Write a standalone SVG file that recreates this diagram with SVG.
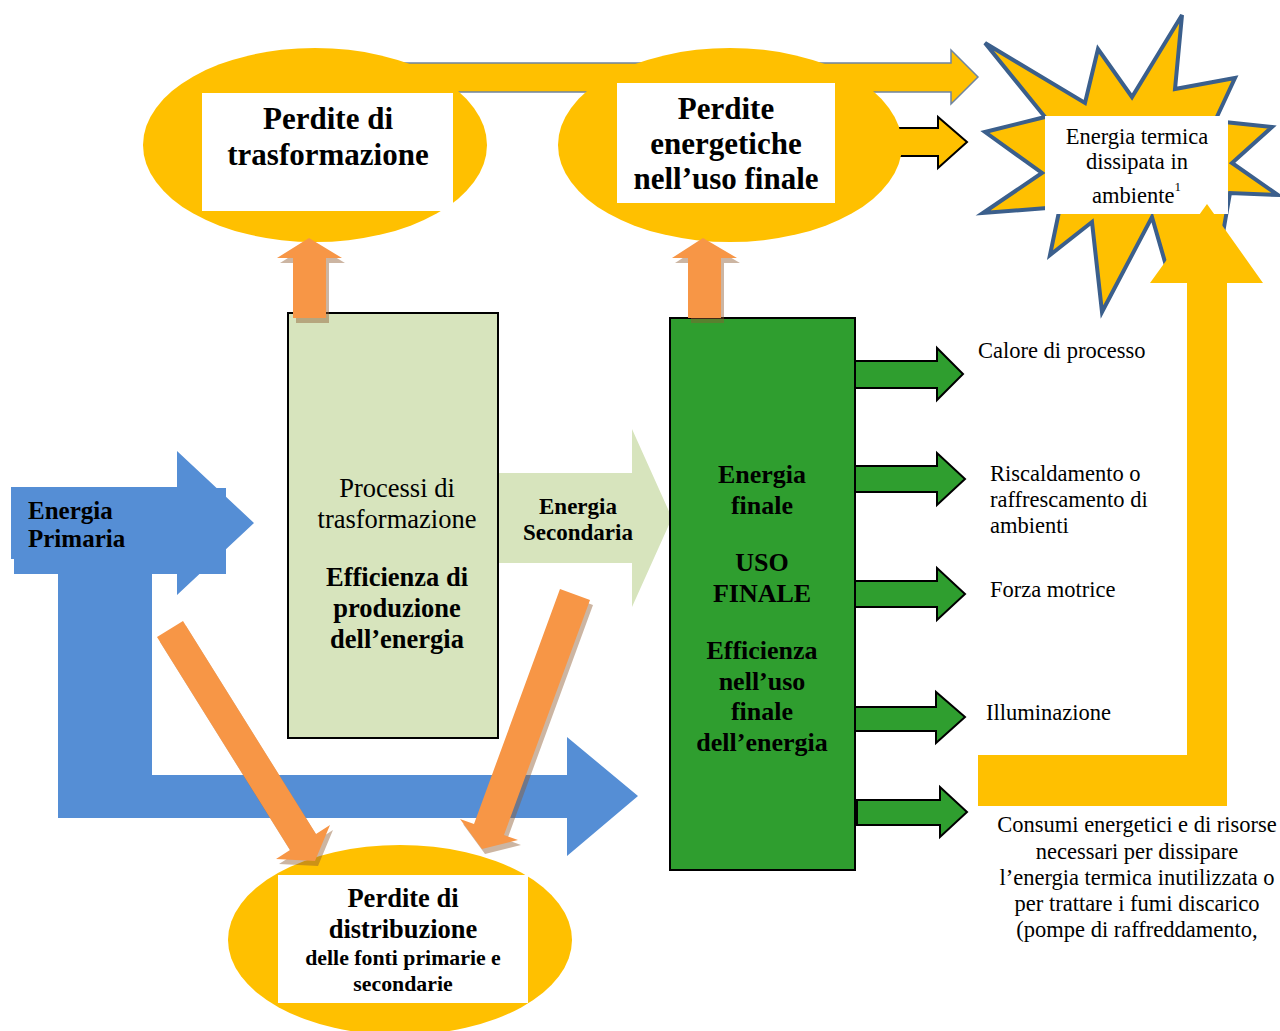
<svg xmlns="http://www.w3.org/2000/svg" width="1280" height="1031" viewBox="0 0 1280 1031">
<style>
text{font-family:"Liberation Serif","Times New Roman",serif;fill:#000}
.b{font-weight:bold}
.c{text-anchor:middle}
.yel{fill:#FFC000}
.org{fill:#F79646}
.shd{fill:#8E5A30;opacity:0.45}
.blu{fill:#558ED5}
.lgr{fill:#D7E4BD}
.grn{fill:#2F9E2F;stroke:#000;stroke-width:2}
.wht{fill:#fff}
</style>
<rect width="1280" height="1031" fill="#fff"/>

<g id="connectors">
  <!-- top yellow arrows -->
  <polygon class="yel" stroke="#6F84A0" stroke-width="1.5" points="400,63 951,63 951,50 978,77 951,104 951,92 400,92"/>
  <polygon class="yel" stroke="#000" stroke-width="2" points="880,128 938,128 938,117 967,142 938,168 938,156 880,156"/>
  <!-- blue primary arrows -->
  <polygon class="blu" points="14,488 226,488 226,574 152,574 152,775 567,775 567,737 638,796 567,856 567,818 58,818 58,574 14,574"/>
  <polygon class="blu" points="11,487 177,487 177,451 254,523 177,595 177,559 11,559"/>
  <!-- secondary energy arrow -->
  <polygon class="lgr" points="498,473 632,473 632,429 672,518 632,607 632,563 498,563"/>
</g>

<g id="node-perdite-trasformazione">
  <ellipse class="yel" cx="315" cy="145" rx="172" ry="97"/>
  <rect class="wht" x="202" y="93" width="251" height="118"/>
  <text class="b c" x="328" y="129" font-size="31">Perdite di</text>
  <text class="b c" x="328" y="165" font-size="31">trasformazione</text>
</g>

<g id="node-perdite-uso-finale">
  <ellipse class="yel" cx="730" cy="145" rx="172" ry="97"/>
  <rect class="wht" x="617" y="83" width="218" height="120"/>
  <text class="b c" x="726" y="119" font-size="31">Perdite</text>
  <text class="b c" x="726" y="154" font-size="31">energetiche</text>
  <text class="b c" x="726" y="189" font-size="31">nell’uso finale</text>
</g>

<g id="node-energia-termica">
  <polygon class="yel" stroke="#3B5F8C" stroke-width="4" stroke-linejoin="miter" points="985,43 1085,103 1098,49 1132,97 1182,15 1175,89 1235,78 1215,121 1272,127 1232,163 1278,195 1230,193 1223,233 1167,269 1152,217 1102,312 1092,222 1050,255 1060,207 983,213 1042,173 985,132 1045,117"/>
  <rect class="wht" x="1045" y="116" width="183" height="98"/>
  <text class="c" x="1137" y="144" font-size="22.5">Energia termica</text>
  <text class="c" x="1137" y="169" font-size="22.5">dissipata in</text>
  <text x="1092" y="203" font-size="22.5">ambiente<tspan font-size="13" dy="-12">1</tspan></text>
</g>

<g id="node-processi">
  <rect class="lgr" x="288" y="313" width="210" height="425" stroke="#000" stroke-width="2"/>
  <text class="c" x="397" y="497" font-size="26.5">Processi di</text>
  <text class="c" x="397" y="528" font-size="26.5">trasformazione</text>
  <text class="b c" x="397" y="586" font-size="26.5">Efficienza di</text>
  <text class="b c" x="397" y="617" font-size="26.5">produzione</text>
  <text class="b c" x="397" y="648" font-size="26.5">dell’energia</text>
</g>

<g id="label-energia-primaria">
  <text class="b" x="28" y="519" font-size="25">Energia</text>
  <text class="b" x="28" y="547" font-size="25">Primaria</text>
</g>

<g id="label-energia-secondaria">
  <text class="b c" x="578" y="514" font-size="23">Energia</text>
  <text class="b c" x="578" y="540" font-size="23">Secondaria</text>
</g>

<g id="node-uso-finale">
  <rect class="grn" x="670" y="318" width="185" height="552"/>
  <text class="b c" x="762" y="483" font-size="26">Energia</text>
  <text class="b c" x="762" y="514" font-size="26">finale</text>
  <text class="b c" x="762" y="571" font-size="26">USO</text>
  <text class="b c" x="762" y="602" font-size="26">FINALE</text>
  <text class="b c" x="762" y="659" font-size="26">Efficienza</text>
  <text class="b c" x="762" y="690" font-size="26">nell’uso</text>
  <text class="b c" x="762" y="720" font-size="26">finale</text>
  <text class="b c" x="762" y="751" font-size="26">dell’energia</text>
</g>

<g id="connectors-uses">
  <polygon class="grn" points="855,361 937,361 937,348 963,374 937,400 937,388 855,388"/>
  <polygon class="grn" points="855,466 937,466 937,453 965,479 937,505 937,492 855,492"/>
  <polygon class="grn" points="855,581 937,581 937,568 965,594 937,620 937,607 855,607"/>
  <polygon class="grn" points="855,707 936,707 936,692 965,717 936,743 936,731 855,731"/>
  <polygon class="grn" points="857,800 940,800 940,787 967,812 940,837 940,825 857,825"/>
</g>

<g id="labels-uses">
  <text x="978" y="358" font-size="22.5">Calore di processo</text>
  <text x="990" y="481" font-size="22.5">Riscaldamento o</text>
  <text x="990" y="507" font-size="22.5">raffrescamento di</text>
  <text x="990" y="533" font-size="22.5">ambienti</text>
  <text x="990" y="597" font-size="22.5">Forza motrice</text>
  <text x="986" y="720" font-size="22.5">Illuminazione</text>
</g>

<g id="connector-dissipazione">
  <polygon class="yel" points="978,755 1187,755 1187,283 1150,283 1207,204 1263,283 1227,283 1227,806 978,806"/>
</g>

<g id="label-consumi">
  <text class="c" x="1137" y="832" font-size="22.5">Consumi energetici e di risorse</text>
  <text class="c" x="1137" y="859" font-size="22.5">necessari per dissipare</text>
  <text class="c" x="1137" y="885" font-size="22.5">l’energia termica inutilizzata o</text>
  <text class="c" x="1137" y="911" font-size="22.5">per trattare i fumi discarico</text>
  <text class="c" x="1137" y="937" font-size="22.5">(pompe di raffreddamento,</text>
</g>

<g id="node-perdite-distribuzione">
  <ellipse class="yel" cx="400" cy="940" rx="172" ry="95"/>
  <rect class="wht" x="278" y="875" width="250" height="128"/>
  <text class="b c" x="403" y="907" font-size="26.5">Perdite di</text>
  <text class="b c" x="403" y="938" font-size="26.5">distribuzione</text>
  <text class="b c" x="403" y="965" font-size="21.8">delle fonti primarie e</text>
  <text class="b c" x="403" y="991" font-size="21.8">secondarie</text>
</g>

<g id="connectors-losses">
  <g transform="translate(3,5)">
    <polygon class="shd" points="293,318 293,258 277,258 309,238 342,258 326,258 326,318"/>
    <polygon class="shd" points="688,318 688,258 672,258 703,238 737,258 721,258 721,318"/>
    <polygon class="shd" points="157,637 183,621 316,834 330,825 315,861 276,859 290,850"/>
    <polygon class="shd" points="590,600 560,589 474,824 460,819 482,849 518,840 504,835"/>
  </g>
  <polygon class="org" points="293,318 293,258 277,258 309,238 342,258 326,258 326,318"/>
  <polygon class="org" points="688,318 688,258 672,258 703,238 737,258 721,258 721,318"/>
  <polygon class="org" points="157,637 183,621 316,834 330,825 315,861 276,859 290,850"/>
  <polygon class="org" points="590,600 560,589 474,824 460,819 482,849 518,840 504,835"/>
</g>
</svg>
